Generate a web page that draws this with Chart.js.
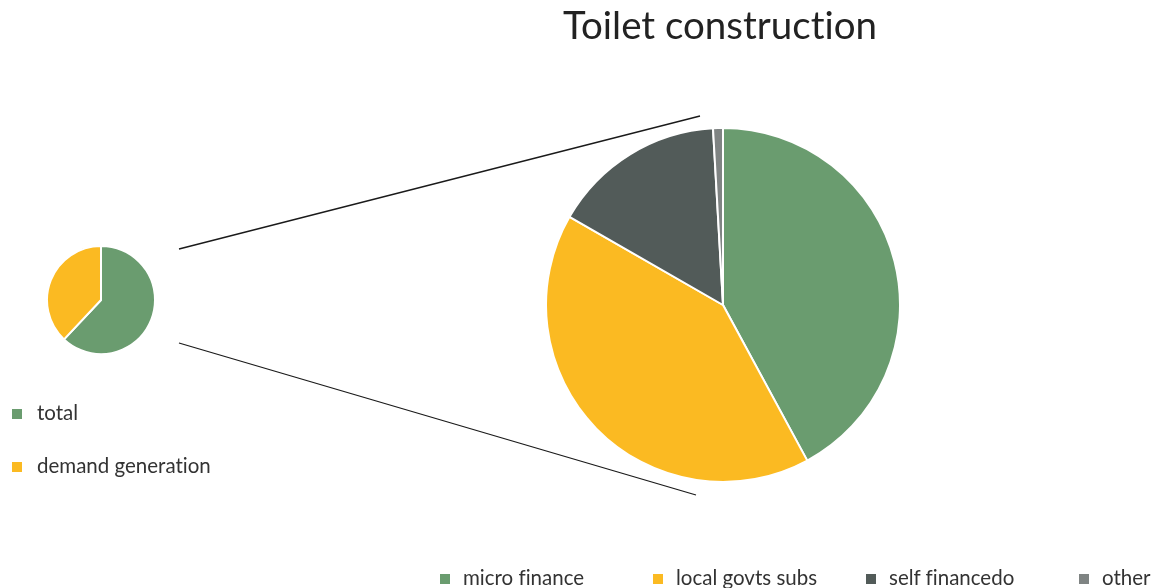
<!DOCTYPE html>
<html>
<head>
<meta charset="utf-8">
<script src="https://cdn.jsdelivr.net/npm/chart.js@4.4.1/dist/chart.umd.min.js"></script>
<style>
    body { margin: 0; background: #fff; font-family: Lato, "Open Sans", sans-serif; font-variant-ligatures: none; }
    #wrap { position: relative; width: 1164px; height: 588px; overflow: hidden; }
    #title { position: absolute; top: 1px; left: 0; width: 1440px; text-align: center; font-size: 38.5px; color: #222; }
    #lines { position: absolute; left: 0; top: 0; }
    .pie { position: absolute; }
    .legend-item { position: absolute; font-size: 20.5px; color: #333; white-space: nowrap; line-height: 20px; }
    .legend-item span { display: inline-block; width: 10px; height: 10px; margin-right: 15px; vertical-align: 1px; }
</style>
</head>
<body>
<div id="wrap">
    <canvas id="lines" width="1164" height="588"></canvas>
    <div id="title">Toilet construction</div>
    <div class="pie" style="left:46px; top:245px; width:110px; height:110px;"><canvas id="smallPie"></canvas></div>
    <div class="pie" style="left:545px; top:127px; width:356px; height:356px;"><canvas id="bigPie"></canvas></div>
    <div id="legendLeft"></div>
    <div id="legendBottom"></div>
</div>
<script>
const mainLabels = ['total', 'demand generation'];
const mainValues = [62, 38];
const mainColors = ['#6a9c6f', '#fbba22'];

const splitLabels = ['micro finance', 'local govts subs', 'self financedo', 'other'];
const splitValues = [42.1, 41.2, 15.8, 0.9];
const splitColors = ['#6a9c6f', '#fbba22', '#525b59', '#7f8483'];

const baseOptions = {
    responsive: true,
    maintainAspectRatio: false,
    animation: false,
    layout: { padding: 0 },
    plugins: {
        legend: { display: false },
        tooltip: { enabled: false },
        title: { display: false }
    }
};

const small = new Chart(document.getElementById('smallPie'), {
    type: 'pie',
    data: {
        labels: mainLabels,
        datasets: [{
            data: mainValues,
            backgroundColor: mainColors,
            borderColor: '#fff',
            borderWidth: 2
        }]
    },
    options: baseOptions
});

const big = new Chart(document.getElementById('bigPie'), {
    type: 'pie',
    data: {
        labels: splitLabels,
        datasets: [{
            data: splitValues,
            backgroundColor: splitColors,
            borderColor: '#fff',
            borderWidth: 2
        }]
    },
    options: baseOptions
});

// legends
const legendLeft = document.getElementById('legendLeft');
mainLabels.forEach((label, i) => {
    const item = document.createElement('div');
    item.className = 'legend-item';
    item.style.left = '12px';
    item.style.top = (402 + i * 53) + 'px';
    item.innerHTML = '<span style="background:' + mainColors[i] + '"></span>' + label;
    legendLeft.appendChild(item);
});

const legendBottom = document.getElementById('legendBottom');
splitLabels.forEach((label, i) => {
    const item = document.createElement('div');
    item.className = 'legend-item';
    item.style.left = (440 + i * 213) + 'px';
    item.style.top = '567px';
    item.innerHTML = '<span style="background:' + splitColors[i] + '; margin-right:13px"></span>' + label;
    legendBottom.appendChild(item);
});

// connector lines between the two pies
function drawConnectors() {
    const canvas = document.getElementById('lines');
    const ctx = canvas.getContext('2d');
    const wrapBox = document.getElementById('wrap').getBoundingClientRect();
    const sBox = small.canvas.getBoundingClientRect();
    const bBox = big.canvas.getBoundingClientRect();
    const sArc = small.getDatasetMeta(0).data[0];
    const bArc = big.getDatasetMeta(0).data[0];

    const sx = sBox.left - wrapBox.left + sArc.x;
    const sy = sBox.top - wrapBox.top + sArc.y;
    const bx = bBox.left - wrapBox.left + bArc.x;
    const by = bBox.top - wrapBox.top + bArc.y;
    const r = sArc.outerRadius;
    const R = bArc.outerRadius;

    ctx.clearRect(0, 0, canvas.width, canvas.height);
    ctx.strokeStyle = '#1a1a1a';
    ctx.lineWidth = 1.3;
    ctx.beginPath();
    ctx.moveTo(sx + r + 24, sy - 51);
    ctx.lineTo(bx - 23, by - R - 12);
    ctx.moveTo(sx + r + 24, sy + 43);
    ctx.lineTo(bx - 27, by + R + 13);
    ctx.stroke();
}
drawConnectors();
</script>
</body>
</html>
